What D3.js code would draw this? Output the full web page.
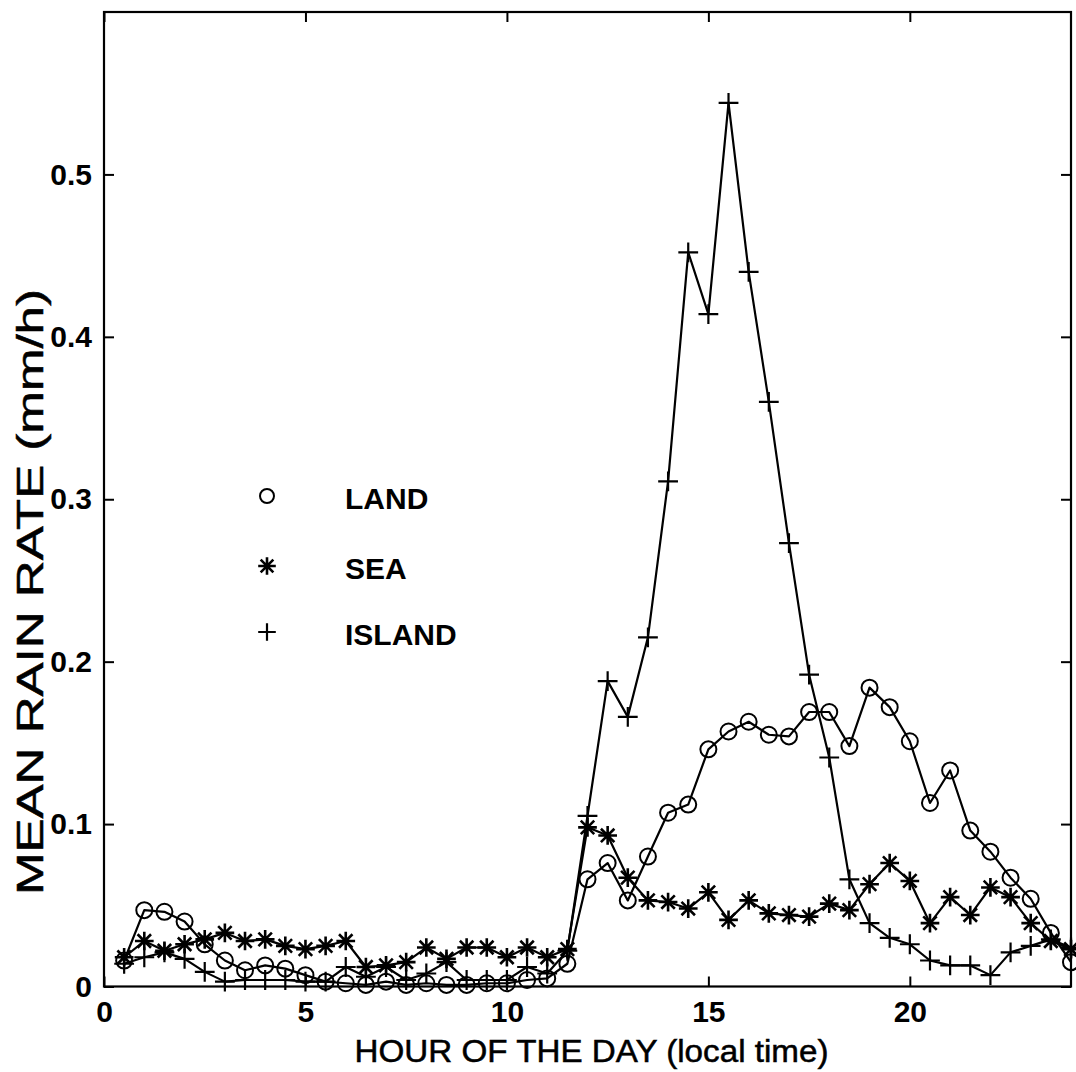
<!DOCTYPE html>
<html>
<head>
<meta charset="utf-8">
<script src="https://cdn.jsdelivr.net/npm/d3@7/dist/d3.min.js"></script>
<style>
  html, body { margin: 0; padding: 0; background: #fff; }
  svg { display: block; }
  text { font-family: "Liberation Sans", Arial, Helvetica, sans-serif; fill: #000; }
</style>
</head>
<body>
<svg id="chart" width="1076" height="1072"></svg>
<script>
// ---- data ----
const hours = [0.5,1,1.5,2,2.5,3,3.5,4,4.5,5,5.5,6,6.5,7,7.5,8,8.5,9,9.5,10,10.5,11,11.5,12,
               12.5,13,13.5,14,14.5,15,15.5,16,16.5,17,17.5,18,18.5,19,19.5,20,20.5,21,21.5,22,22.5,23,23.5,24];

const land = [0.016,0.047,0.046,0.040,0.026,0.016,0.010,0.013,0.011,0.007,0.003,0.002,0.001,0.003,0.001,0.002,
              0.001,0.001,0.002,0.002,0.004,0.005,0.014,0.066,0.076,0.053,0.080,0.107,0.112,0.146,0.157,0.163,
              0.155,0.154,0.169,0.169,0.148,0.184,0.172,0.151,0.113,0.133,0.096,0.083,0.067,0.054,0.033,0.015];

const sea = [0.018,0.028,0.022,0.026,0.029,0.033,0.028,0.029,0.025,0.023,0.025,0.028,0.012,0.013,0.015,0.024,
             0.017,0.024,0.024,0.018,0.024,0.018,0.023,0.098,0.093,0.067,0.053,0.052,0.048,0.058,0.041,0.053,
             0.045,0.044,0.043,0.051,0.047,0.063,0.076,0.065,0.039,0.055,0.044,0.061,0.055,0.039,0.028,0.023];

const island = [0.014,0.018,0.021,0.017,0.009,0.003,0.004,0.004,0.004,0.003,0.003,0.012,0.006,0.012,0.004,0.008,
                0.015,0.004,0.004,0.004,0.012,0.008,0.022,0.105,0.188,0.166,0.215,0.311,0.452,0.414,0.544,0.440,
                0.360,0.273,0.192,0.141,0.066,0.039,0.030,0.026,0.016,0.013,0.013,0.007,0.021,0.025,0.029,0.024];

const seriesNames = ["LAND", "SEA", "ISLAND"];
const seriesMarkers = ["circle", "star", "plus"];
const xTicks = [0, 5, 10, 15, 20];
const yTicks = [0, 0.1, 0.2, 0.3, 0.4, 0.5];
const xTitle = "HOUR OF THE DAY (local time)";
const yTitle = "MEAN RAIN RATE (mm/h)";

// ---- layout ----
const svg = d3.select("#chart");
const L = 104, R = 1071, T = 12, B = 986.5;
const x = d3.scaleLinear().domain([0, 24]).range([L, R]);
const y = d3.scaleLinear().domain([0, 0.6]).range([B, T]);

const tickLen = 10;
const g = svg.append("g");

// frame
g.append("rect").attr("x", L).attr("y", T).attr("width", R - L).attr("height", B - T)
  .attr("fill", "none").attr("stroke", "#000").attr("stroke-width", 2.2);

// axes with inward ticks
const fmtY = d => d === 0 ? "0" : d3.format(".1f")(d);
const axB = g.append("g").attr("transform", `translate(0,${B})`)
  .call(d3.axisBottom(x).tickValues(xTicks).tickSize(-tickLen).tickPadding(14).tickFormat(d3.format("d")));
const axT = g.append("g").attr("transform", `translate(0,${T})`)
  .call(d3.axisTop(x).tickValues(xTicks).tickSize(-tickLen).tickFormat(""));
const axL = g.append("g").attr("transform", `translate(${L},0)`)
  .call(d3.axisLeft(y).tickValues(yTicks).tickSize(-tickLen).tickPadding(12).tickFormat(fmtY));
const axR = g.append("g").attr("transform", `translate(${R},0)`)
  .call(d3.axisRight(y).tickValues(yTicks).tickSize(-tickLen).tickFormat(""));

[axB, axT, axL, axR].forEach(a => {
  a.select(".domain").remove();
  a.selectAll(".tick line").attr("stroke", "#000").attr("stroke-width", 2);
  a.selectAll(".tick text").attr("font-size", 30).attr("font-weight", "bold")
    .attr("font-family", "Liberation Sans, Arial, sans-serif").attr("fill", "#000");
});
axB.selectAll(".tick text").attr("dy", "0.71em");

// axis titles
g.append("text").attr("x", (L + R) / 2 + 4).attr("y", 1062)
  .attr("text-anchor", "middle").attr("font-size", 31)
  .attr("stroke", "#000").attr("stroke-width", 0.5)
  .attr("textLength", 474).attr("lengthAdjust", "spacingAndGlyphs")
  .text(xTitle);
g.append("text").attr("transform", `translate(43, ${592}) rotate(-90)`)
  .attr("text-anchor", "middle").attr("font-size", 37)
  .attr("stroke", "#000").attr("stroke-width", 0.5)
  .attr("textLength", 606).attr("lengthAdjust", "spacingAndGlyphs")
  .text(yTitle);

// ---- series ----
const datasets = [land, sea, island];
const line = d3.line().x((d, i) => x(hours[i])).y(d => y(d));

function drawMarker(sel, type, cx, cy, s) {
  if (type === "circle") {
    sel.append("circle").attr("cx", cx).attr("cy", cy).attr("r", s * 0.5)
      .attr("fill", "none").attr("stroke", "#000").attr("stroke-width", 2);
  } else if (type === "plus") {
    const h = s * 0.55;
    sel.append("path").attr("d", `M${cx - h},${cy}H${cx + h}M${cx},${cy - h}V${cy + h}`)
      .attr("stroke", "#000").attr("stroke-width", 2.2).attr("fill", "none");
  } else if (type === "star") {
    const h = s * 0.55, d = h * 0.72;
    sel.append("path").attr("d",
      `M${cx - h},${cy}H${cx + h}M${cx},${cy - h}V${cy + h}` +
      `M${cx - d},${cy - d}L${cx + d},${cy + d}M${cx - d},${cy + d}L${cx + d},${cy - d}`)
      .attr("stroke", "#000").attr("stroke-width", 2.6).attr("fill", "none");
  }
}

const sizes = { circle: 16, star: 17, plus: 18 };
datasets.forEach((vals, k) => {
  const sg = g.append("g").attr("class", "series-" + seriesNames[k]);
  sg.append("path").datum(vals).attr("d", line)
    .attr("fill", "none").attr("stroke", "#000").attr("stroke-width", 2.2).attr("stroke-linejoin", "round");
  vals.forEach((v, i) => drawMarker(sg, seriesMarkers[k], x(hours[i]), y(v), sizes[seriesMarkers[k]]));
});

// ---- legend ----
const legY = [496, 566, 632];
const lg = g.append("g").attr("class", "legend");
seriesNames.forEach((name, k) => {
  const ms = seriesMarkers[k] === "circle" ? 14 : 16;
  drawMarker(lg, seriesMarkers[k], 267, legY[k], ms);
  lg.append("text").attr("x", 345).attr("y", legY[k] + 2).attr("dy", "0.36em")
    .attr("font-size", 30).attr("font-weight", "bold").text(name);
});
</script>
</body>
</html>
